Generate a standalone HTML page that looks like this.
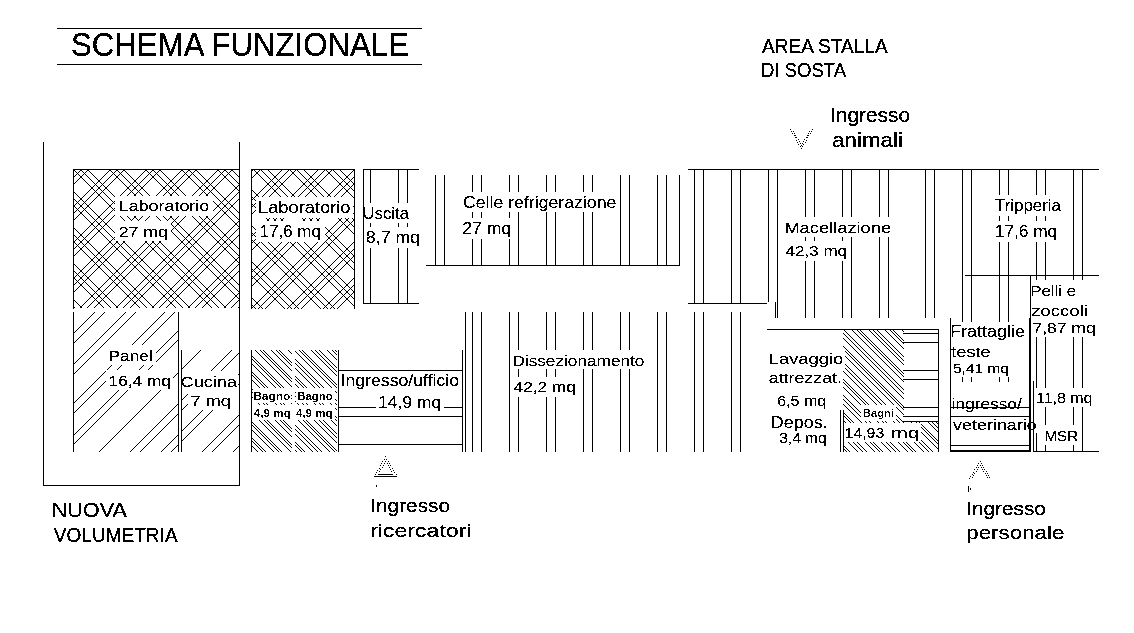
<!DOCTYPE html>
<html><head><meta charset="utf-8"><title>Schema funzionale</title>
<style>html,body{margin:0;padding:0;background:#fff;width:1134px;height:633px;overflow:hidden}svg{display:block;shape-rendering:crispEdges}text{font-family:"Liberation Sans",sans-serif}</style>
</head><body>
<svg width="1134" height="633" viewBox="0 0 1134 633">
<rect width="100%" height="100%" fill="#fff"/>
<filter id="bin0" x="0" y="0" width="1134" height="633" filterUnits="userSpaceOnUse"><feComponentTransfer><feFuncA type="discrete" tableValues="0 1"/></feComponentTransfer></filter>
<g filter="url(#bin0)">
<clipPath id="c1"><rect x="73" y="169" width="166" height="139"/></clipPath>
<g clip-path="url(#c1)" stroke="#000" stroke-width="0.71" fill="none">
<path d="M-108.4 167.5L34.6 310.5M-72.4 167.5L70.6 310.5M-36.4 167.5L106.6 310.5M-0.4 167.5L142.6 310.5M35.6 167.5L178.6 310.5M71.6 167.5L214.6 310.5M107.6 167.5L250.6 310.5M143.6 167.5L286.6 310.5M179.6 167.5L322.6 310.5M215.6 167.5L358.6 310.5M251.6 167.5L394.6 310.5M287.6 167.5L430.6 310.5M-137.4 167.5L5.6 310.5M-101.4 167.5L41.6 310.5M-65.4 167.5L77.6 310.5M-29.4 167.5L113.6 310.5M6.6 167.5L149.6 310.5M42.6 167.5L185.6 310.5M78.6 167.5L221.6 310.5M114.6 167.5L257.6 310.5M150.6 167.5L293.6 310.5M186.6 167.5L329.6 310.5M222.6 167.5L365.6 310.5M258.6 167.5L401.6 310.5M294.6 167.5L437.6 310.5M-130.4 167.5L12.6 310.5M-94.4 167.5L48.6 310.5M-58.4 167.5L84.6 310.5M-22.4 167.5L120.6 310.5M13.6 167.5L156.6 310.5M49.6 167.5L192.6 310.5M85.6 167.5L228.6 310.5M121.6 167.5L264.6 310.5M157.6 167.5L300.6 310.5M193.6 167.5L336.6 310.5M229.6 167.5L372.6 310.5M265.6 167.5L408.6 310.5M301.6 167.5L444.6 310.5"/>
</g>
<clipPath id="c2"><rect x="73" y="169" width="166" height="139"/></clipPath>
<g clip-path="url(#c2)" stroke="#000" stroke-width="0.71" fill="none">
<path d="M4.1 167.5L-138.9 310.5M40.1 167.5L-102.9 310.5M76.1 167.5L-66.9 310.5M112.1 167.5L-30.9 310.5M148.1 167.5L5.1 310.5M184.1 167.5L41.1 310.5M220.1 167.5L77.1 310.5M256.1 167.5L113.1 310.5M292.1 167.5L149.1 310.5M328.1 167.5L185.1 310.5M364.1 167.5L221.1 310.5M400.1 167.5L257.1 310.5M436.1 167.5L293.1 310.5M11.1 167.5L-131.9 310.5M47.1 167.5L-95.9 310.5M83.1 167.5L-59.9 310.5M119.1 167.5L-23.9 310.5M155.1 167.5L12.1 310.5M191.1 167.5L48.1 310.5M227.1 167.5L84.1 310.5M263.1 167.5L120.1 310.5M299.1 167.5L156.1 310.5M335.1 167.5L192.1 310.5M371.1 167.5L228.1 310.5M407.1 167.5L264.1 310.5M443.1 167.5L300.1 310.5M18.1 167.5L-124.9 310.5M54.1 167.5L-88.9 310.5M90.1 167.5L-52.9 310.5M126.1 167.5L-16.9 310.5M162.1 167.5L19.1 310.5M198.1 167.5L55.1 310.5M234.1 167.5L91.1 310.5M270.1 167.5L127.1 310.5M306.1 167.5L163.1 310.5M342.1 167.5L199.1 310.5M378.1 167.5L235.1 310.5M414.1 167.5L271.1 310.5M450.1 167.5L307.1 310.5"/>
</g>
<clipPath id="c3"><rect x="251" y="169" width="104" height="140"/></clipPath>
<g clip-path="url(#c3)" stroke="#000" stroke-width="0.71" fill="none">
<path d="M71.6 167.5L215.6 311.5M107.6 167.5L251.6 311.5M143.6 167.5L287.6 311.5M179.6 167.5L323.6 311.5M215.6 167.5L359.6 311.5M251.6 167.5L395.6 311.5M287.6 167.5L431.6 311.5M323.6 167.5L467.6 311.5M359.6 167.5L503.6 311.5M395.6 167.5L539.6 311.5M42.6 167.5L186.6 311.5M78.6 167.5L222.6 311.5M114.6 167.5L258.6 311.5M150.6 167.5L294.6 311.5M186.6 167.5L330.6 311.5M222.6 167.5L366.6 311.5M258.6 167.5L402.6 311.5M294.6 167.5L438.6 311.5M330.6 167.5L474.6 311.5M366.6 167.5L510.6 311.5M402.6 167.5L546.6 311.5M49.6 167.5L193.6 311.5M85.6 167.5L229.6 311.5M121.6 167.5L265.6 311.5M157.6 167.5L301.6 311.5M193.6 167.5L337.6 311.5M229.6 167.5L373.6 311.5M265.6 167.5L409.6 311.5M301.6 167.5L445.6 311.5M337.6 167.5L481.6 311.5M373.6 167.5L517.6 311.5M409.6 167.5L553.6 311.5"/>
</g>
<clipPath id="c4"><rect x="251" y="169" width="104" height="140"/></clipPath>
<g clip-path="url(#c4)" stroke="#000" stroke-width="0.71" fill="none">
<path d="M212.8 167.5L68.8 311.5M248.8 167.5L104.8 311.5M284.8 167.5L140.8 311.5M320.8 167.5L176.8 311.5M356.8 167.5L212.8 311.5M392.8 167.5L248.8 311.5M428.8 167.5L284.8 311.5M464.8 167.5L320.8 311.5M500.8 167.5L356.8 311.5M536.8 167.5L392.8 311.5M183.8 167.5L39.8 311.5M219.8 167.5L75.8 311.5M255.8 167.5L111.8 311.5M291.8 167.5L147.8 311.5M327.8 167.5L183.8 311.5M363.8 167.5L219.8 311.5M399.8 167.5L255.8 311.5M435.8 167.5L291.8 311.5M471.8 167.5L327.8 311.5M507.8 167.5L363.8 311.5M543.8 167.5L399.8 311.5M190.8 167.5L46.8 311.5M226.8 167.5L82.8 311.5M262.8 167.5L118.8 311.5M298.8 167.5L154.8 311.5M334.8 167.5L190.8 311.5M370.8 167.5L226.8 311.5M406.8 167.5L262.8 311.5M442.8 167.5L298.8 311.5M478.8 167.5L334.8 311.5M514.8 167.5L370.8 311.5M550.8 167.5L406.8 311.5"/>
</g>
<clipPath id="c5"><rect x="73" y="312" width="105" height="140"/></clipPath>
<g clip-path="url(#c5)" stroke="#000" stroke-width="0.71" fill="none">
<path d="M-19903.5 310.5L-20047.5 454.5M-9903.5 310.5L-10047.5 454.5M96.5 310.5L-47.5 454.5M10096.5 310.5L9952.5 454.5M20096.5 310.5L19952.5 454.5M-19893.5 310.5L-20037.5 454.5M-9893.5 310.5L-10037.5 454.5M106.5 310.5L-37.5 454.5M10106.5 310.5L9962.5 454.5M20106.5 310.5L19962.5 454.5M-19872.5 310.5L-20016.5 454.5M-9872.5 310.5L-10016.5 454.5M127.5 310.5L-16.5 454.5M10127.5 310.5L9983.5 454.5M20127.5 310.5L19983.5 454.5M-19862.5 310.5L-20006.5 454.5M-9862.5 310.5L-10006.5 454.5M137.5 310.5L-6.5 454.5M10137.5 310.5L9993.5 454.5M20137.5 310.5L19993.5 454.5M-19833.5 310.5L-19977.5 454.5M-9833.5 310.5L-9977.5 454.5M166.5 310.5L22.5 454.5M10166.5 310.5L10022.5 454.5M20166.5 310.5L20022.5 454.5M-19823.5 310.5L-19967.5 454.5M-9823.5 310.5L-9967.5 454.5M176.5 310.5L32.5 454.5M10176.5 310.5L10032.5 454.5M20176.5 310.5L20032.5 454.5M-19803.0 310.5L-19947.0 454.5M-9803.0 310.5L-9947.0 454.5M197.0 310.5L53.0 454.5M10197.0 310.5L10053.0 454.5M20197.0 310.5L20053.0 454.5M-19792.8 310.5L-19936.8 454.5M-9792.8 310.5L-9936.8 454.5M207.2 310.5L63.2 454.5M10207.2 310.5L10063.2 454.5M20207.2 310.5L20063.2 454.5M-19759.5 310.5L-19903.5 454.5M-9759.5 310.5L-9903.5 454.5M240.5 310.5L96.5 454.5M10240.5 310.5L10096.5 454.5M20240.5 310.5L20096.5 454.5M-19728.5 310.5L-19872.5 454.5M-9728.5 310.5L-9872.5 454.5M271.5 310.5L127.5 454.5M10271.5 310.5L10127.5 454.5M20271.5 310.5L20127.5 454.5M-19718.5 310.5L-19862.5 454.5M-9718.5 310.5L-9862.5 454.5M281.5 310.5L137.5 454.5M10281.5 310.5L10137.5 454.5M20281.5 310.5L20137.5 454.5M-19697.5 310.5L-19841.5 454.5M-9697.5 310.5L-9841.5 454.5M302.5 310.5L158.5 454.5M10302.5 310.5L10158.5 454.5M20302.5 310.5L20158.5 454.5M-19687.5 310.5L-19831.5 454.5M-9687.5 310.5L-9831.5 454.5M312.5 310.5L168.5 454.5M10312.5 310.5L10168.5 454.5M20312.5 310.5L20168.5 454.5M-19656.5 310.5L-19800.5 454.5M-9656.5 310.5L-9800.5 454.5M343.5 310.5L199.5 454.5M10343.5 310.5L10199.5 454.5M-19646.5 310.5L-19790.5 454.5M-9646.5 310.5L-9790.5 454.5M353.5 310.5L209.5 454.5M10353.5 310.5L10209.5 454.5M-19625.5 310.5L-19769.5 454.5M-9625.5 310.5L-9769.5 454.5M374.5 310.5L230.5 454.5M10374.5 310.5L10230.5 454.5M-19615.5 310.5L-19759.5 454.5M-9615.5 310.5L-9759.5 454.5M384.5 310.5L240.5 454.5M10384.5 310.5L10240.5 454.5"/>
</g>
<clipPath id="c6"><rect x="181" y="350" width="58" height="102"/></clipPath>
<g clip-path="url(#c6)" stroke="#000" stroke-width="0.71" fill="none">
<path d="M-9941.5 348.5L-10047.5 454.5M58.5 348.5L-47.5 454.5M10058.5 348.5L9952.5 454.5M20058.5 348.5L19952.5 454.5M-9931.5 348.5L-10037.5 454.5M68.5 348.5L-37.5 454.5M10068.5 348.5L9962.5 454.5M20068.5 348.5L19962.5 454.5M-9910.5 348.5L-10016.5 454.5M89.5 348.5L-16.5 454.5M10089.5 348.5L9983.5 454.5M20089.5 348.5L19983.5 454.5M-9900.5 348.5L-10006.5 454.5M99.5 348.5L-6.5 454.5M10099.5 348.5L9993.5 454.5M20099.5 348.5L19993.5 454.5M-9871.5 348.5L-9977.5 454.5M128.5 348.5L22.5 454.5M10128.5 348.5L10022.5 454.5M20128.5 348.5L20022.5 454.5M-9861.5 348.5L-9967.5 454.5M138.5 348.5L32.5 454.5M10138.5 348.5L10032.5 454.5M20138.5 348.5L20032.5 454.5M-9841.0 348.5L-9947.0 454.5M159.0 348.5L53.0 454.5M10159.0 348.5L10053.0 454.5M20159.0 348.5L20053.0 454.5M-9830.8 348.5L-9936.8 454.5M169.2 348.5L63.2 454.5M10169.2 348.5L10063.2 454.5M20169.2 348.5L20063.2 454.5M-19797.5 348.5L-19903.5 454.5M-9797.5 348.5L-9903.5 454.5M202.5 348.5L96.5 454.5M10202.5 348.5L10096.5 454.5M20202.5 348.5L20096.5 454.5M-19766.5 348.5L-19872.5 454.5M-9766.5 348.5L-9872.5 454.5M233.5 348.5L127.5 454.5M10233.5 348.5L10127.5 454.5M20233.5 348.5L20127.5 454.5M-19756.5 348.5L-19862.5 454.5M-9756.5 348.5L-9862.5 454.5M243.5 348.5L137.5 454.5M10243.5 348.5L10137.5 454.5M20243.5 348.5L20137.5 454.5M-19735.5 348.5L-19841.5 454.5M-9735.5 348.5L-9841.5 454.5M264.5 348.5L158.5 454.5M10264.5 348.5L10158.5 454.5M20264.5 348.5L20158.5 454.5M-19725.5 348.5L-19831.5 454.5M-9725.5 348.5L-9831.5 454.5M274.5 348.5L168.5 454.5M10274.5 348.5L10168.5 454.5M20274.5 348.5L20168.5 454.5M-19694.5 348.5L-19800.5 454.5M-9694.5 348.5L-9800.5 454.5M305.5 348.5L199.5 454.5M10305.5 348.5L10199.5 454.5M20305.5 348.5L20199.5 454.5M-19684.5 348.5L-19790.5 454.5M-9684.5 348.5L-9790.5 454.5M315.5 348.5L209.5 454.5M10315.5 348.5L10209.5 454.5M20315.5 348.5L20209.5 454.5M-19663.5 348.5L-19769.5 454.5M-9663.5 348.5L-9769.5 454.5M336.5 348.5L230.5 454.5M10336.5 348.5L10230.5 454.5M20336.5 348.5L20230.5 454.5M-19653.5 348.5L-19759.5 454.5M-9653.5 348.5L-9759.5 454.5M346.5 348.5L240.5 454.5M10346.5 348.5L10240.5 454.5"/>
</g>
<clipPath id="c7"><rect x="252" y="350" width="40" height="102"/></clipPath>
<g clip-path="url(#c7)" stroke="#000" stroke-width="0.71" fill="none">
<path d="M121.2 348.5L227.2 454.5M137.7 348.5L243.7 454.5M154.2 348.5L260.2 454.5M170.7 348.5L276.7 454.5M187.2 348.5L293.2 454.5M203.7 348.5L309.7 454.5M220.2 348.5L326.2 454.5M236.7 348.5L342.7 454.5M253.2 348.5L359.2 454.5M269.7 348.5L375.7 454.5M286.2 348.5L392.2 454.5M302.7 348.5L408.7 454.5M319.2 348.5L425.2 454.5M126.1 348.5L232.1 454.5M142.6 348.5L248.6 454.5M159.1 348.5L265.1 454.5M175.6 348.5L281.6 454.5M192.1 348.5L298.1 454.5M208.6 348.5L314.6 454.5M225.1 348.5L331.1 454.5M241.6 348.5L347.6 454.5M258.1 348.5L364.1 454.5M274.6 348.5L380.6 454.5M291.1 348.5L397.1 454.5M307.6 348.5L413.6 454.5M129.3 348.5L235.3 454.5M145.8 348.5L251.8 454.5M162.3 348.5L268.3 454.5M178.8 348.5L284.8 454.5M195.3 348.5L301.3 454.5M211.8 348.5L317.8 454.5M228.3 348.5L334.3 454.5M244.8 348.5L350.8 454.5M261.3 348.5L367.3 454.5M277.8 348.5L383.8 454.5M294.3 348.5L400.3 454.5M310.8 348.5L416.8 454.5"/>
</g>
<clipPath id="c8"><rect x="295" y="350" width="42" height="102"/></clipPath>
<g clip-path="url(#c8)" stroke="#000" stroke-width="0.71" fill="none">
<path d="M160.5 348.5L266.5 454.5M177.0 348.5L283.0 454.5M193.5 348.5L299.5 454.5M210.0 348.5L316.0 454.5M226.5 348.5L332.5 454.5M243.0 348.5L349.0 454.5M259.5 348.5L365.5 454.5M276.0 348.5L382.0 454.5M292.5 348.5L398.5 454.5M309.0 348.5L415.0 454.5M325.5 348.5L431.5 454.5M342.0 348.5L448.0 454.5M358.5 348.5L464.5 454.5M165.4 348.5L271.4 454.5M181.9 348.5L287.9 454.5M198.4 348.5L304.4 454.5M214.9 348.5L320.9 454.5M231.4 348.5L337.4 454.5M247.9 348.5L353.9 454.5M264.4 348.5L370.4 454.5M280.9 348.5L386.9 454.5M297.4 348.5L403.4 454.5M313.9 348.5L419.9 454.5M330.4 348.5L436.4 454.5M346.9 348.5L452.9 454.5M363.4 348.5L469.4 454.5M168.6 348.5L274.6 454.5M185.1 348.5L291.1 454.5M201.6 348.5L307.6 454.5M218.1 348.5L324.1 454.5M234.6 348.5L340.6 454.5M251.1 348.5L357.1 454.5M267.6 348.5L373.6 454.5M284.1 348.5L390.1 454.5M300.6 348.5L406.6 454.5M317.1 348.5L423.1 454.5M333.6 348.5L439.6 454.5M350.1 348.5L456.1 454.5M366.6 348.5L472.6 454.5"/>
</g>
<clipPath id="c9"><rect x="843" y="330" width="61" height="122"/></clipPath>
<g clip-path="url(#c9)" stroke="#000" stroke-width="0.71" fill="none">
<path d="M702.0 328.5L828.0 454.5M718.5 328.5L844.5 454.5M735.0 328.5L861.0 454.5M751.5 328.5L877.5 454.5M768.0 328.5L894.0 454.5M784.5 328.5L910.5 454.5M801.0 328.5L927.0 454.5M817.5 328.5L943.5 454.5M834.0 328.5L960.0 454.5M850.5 328.5L976.5 454.5M867.0 328.5L993.0 454.5M883.5 328.5L1009.5 454.5M900.0 328.5L1026.0 454.5M916.5 328.5L1042.5 454.5M933.0 328.5L1059.0 454.5M690.4 328.5L816.4 454.5M706.9 328.5L832.9 454.5M723.4 328.5L849.4 454.5M739.9 328.5L865.9 454.5M756.4 328.5L882.4 454.5M772.9 328.5L898.9 454.5M789.4 328.5L915.4 454.5M805.9 328.5L931.9 454.5M822.4 328.5L948.4 454.5M838.9 328.5L964.9 454.5M855.4 328.5L981.4 454.5M871.9 328.5L997.9 454.5M888.4 328.5L1014.4 454.5M904.9 328.5L1030.9 454.5M921.4 328.5L1047.4 454.5M693.6 328.5L819.6 454.5M710.1 328.5L836.1 454.5M726.6 328.5L852.6 454.5M743.1 328.5L869.1 454.5M759.6 328.5L885.6 454.5M776.1 328.5L902.1 454.5M792.6 328.5L918.6 454.5M809.1 328.5L935.1 454.5M825.6 328.5L951.6 454.5M842.1 328.5L968.1 454.5M858.6 328.5L984.6 454.5M875.1 328.5L1001.1 454.5M891.6 328.5L1017.6 454.5M908.1 328.5L1034.1 454.5M924.6 328.5L1050.6 454.5"/>
</g>
<clipPath id="c10"><rect x="904" y="422" width="34" height="30"/></clipPath>
<g clip-path="url(#c10)" stroke="#000" stroke-width="0.71" fill="none">
<path d="M843.5 420.5L877.5 454.5M860.0 420.5L894.0 454.5M876.5 420.5L910.5 454.5M893.0 420.5L927.0 454.5M909.5 420.5L943.5 454.5M926.0 420.5L960.0 454.5M942.5 420.5L976.5 454.5M959.0 420.5L993.0 454.5M848.4 420.5L882.4 454.5M864.9 420.5L898.9 454.5M881.4 420.5L915.4 454.5M897.9 420.5L931.9 454.5M914.4 420.5L948.4 454.5M930.9 420.5L964.9 454.5M947.4 420.5L981.4 454.5M963.9 420.5L997.9 454.5M851.6 420.5L885.6 454.5M868.1 420.5L902.1 454.5M884.6 420.5L918.6 454.5M901.1 420.5L935.1 454.5M917.6 420.5L951.6 454.5M934.1 420.5L968.1 454.5M950.6 420.5L984.6 454.5M967.1 420.5L1001.1 454.5"/>
</g>
</g>
<g fill="#000">
<rect x="435" y="175" width="1" height="91"/>
<rect x="444" y="175" width="1" height="91"/>
<rect x="472" y="175" width="1" height="91"/>
<rect x="481" y="175" width="1" height="91"/>
<rect x="509" y="175" width="1" height="91"/>
<rect x="518" y="175" width="1" height="91"/>
<rect x="546" y="175" width="1" height="91"/>
<rect x="555" y="175" width="1" height="91"/>
<rect x="583" y="175" width="1" height="91"/>
<rect x="592" y="175" width="1" height="91"/>
<rect x="620" y="175" width="1" height="91"/>
<rect x="629" y="175" width="1" height="91"/>
<rect x="657" y="175" width="1" height="91"/>
<rect x="666" y="175" width="1" height="91"/>
<rect x="465" y="312" width="1" height="140"/>
<rect x="472" y="312" width="1" height="140"/>
<rect x="481" y="312" width="1" height="140"/>
<rect x="509" y="312" width="1" height="140"/>
<rect x="518" y="312" width="1" height="140"/>
<rect x="546" y="312" width="1" height="140"/>
<rect x="555" y="312" width="1" height="140"/>
<rect x="583" y="312" width="1" height="140"/>
<rect x="592" y="312" width="1" height="140"/>
<rect x="620" y="312" width="1" height="140"/>
<rect x="629" y="312" width="1" height="140"/>
<rect x="657" y="312" width="1" height="140"/>
<rect x="666" y="312" width="1" height="140"/>
<rect x="694" y="312" width="1" height="140"/>
<rect x="703" y="312" width="1" height="140"/>
<rect x="731" y="312" width="1" height="140"/>
<rect x="740" y="312" width="1" height="140"/>
<rect x="694" y="169" width="1" height="135"/>
<rect x="703" y="169" width="1" height="135"/>
<rect x="731" y="169" width="1" height="135"/>
<rect x="740" y="169" width="1" height="135"/>
<rect x="768" y="169" width="1" height="133"/>
<rect x="777" y="169" width="1" height="149"/>
<rect x="775" y="302" width="1" height="16"/>
<rect x="805" y="169" width="1" height="149"/>
<rect x="814" y="169" width="1" height="149"/>
<rect x="842" y="169" width="1" height="149"/>
<rect x="851" y="169" width="1" height="149"/>
<rect x="879" y="169" width="1" height="149"/>
<rect x="888" y="169" width="1" height="149"/>
<rect x="925" y="169" width="1" height="149"/>
<rect x="934" y="169" width="1" height="149"/>
<rect x="962" y="169" width="1" height="213"/>
<rect x="971" y="169" width="1" height="213"/>
<rect x="999" y="169" width="1" height="213"/>
<rect x="1008" y="169" width="1" height="213"/>
<rect x="1036" y="169" width="1" height="283"/>
<rect x="1045" y="169" width="1" height="283"/>
<rect x="1073" y="169" width="1" height="283"/>
<rect x="1082" y="169" width="1" height="283"/>
<rect x="370" y="169" width="1" height="135"/>
<rect x="398" y="169" width="1" height="135"/>
<rect x="407" y="169" width="1" height="135"/>
<rect x="338" y="407" width="125" height="1"/>
</g>
<g fill="#fff">
<rect x="115" y="196" width="98" height="20" fill="#fff"/>
<rect x="115" y="221" width="56" height="20" fill="#fff"/>
<rect x="256" y="197" width="97" height="21" fill="#fff"/>
<rect x="256" y="221" width="69" height="21" fill="#fff"/>
<rect x="366" y="203" width="46" height="20" fill="#fff"/>
<rect x="366" y="227" width="54" height="21" fill="#fff"/>
<rect x="461" y="192" width="158" height="20" fill="#fff"/>
<rect x="459" y="218" width="54" height="21" fill="#fff"/>
<rect x="782" y="217" width="111" height="20" fill="#fff"/>
<rect x="782" y="241" width="68" height="20" fill="#fff"/>
<rect x="991" y="195" width="73" height="21" fill="#fff"/>
<rect x="992" y="221" width="68" height="21" fill="#fff"/>
<rect x="106" y="345" width="50" height="20" fill="#fff"/>
<rect x="106" y="370" width="67" height="20" fill="#fff"/>
<rect x="184" y="371" width="54" height="20" fill="#fff"/>
<rect x="188" y="390" width="45" height="20" fill="#fff"/>
<rect x="253" y="388" width="38" height="15" fill="#fff"/>
<rect x="252" y="405" width="40" height="15" fill="#fff"/>
<rect x="296" y="388" width="39" height="15" fill="#fff"/>
<rect x="295" y="405" width="40" height="15" fill="#fff"/>
<rect x="341" y="371" width="119" height="19" fill="#fff"/>
<rect x="376" y="392" width="68" height="20" fill="#fff"/>
<rect x="510" y="350" width="137" height="19" fill="#fff"/>
<rect x="511" y="377" width="67" height="20" fill="#fff"/>
<rect x="766" y="349" width="79" height="19" fill="#fff"/>
<rect x="766" y="367" width="77" height="21" fill="#fff"/>
<rect x="775" y="390" width="53" height="20" fill="#fff"/>
<rect x="769" y="412" width="60" height="20" fill="#fff"/>
<rect x="776" y="429" width="53" height="19" fill="#fff"/>
<rect x="861" y="405" width="35" height="16" fill="#fff"/>
<rect x="843" y="423" width="78" height="19" fill="#fff"/>
<rect x="1029" y="280" width="68" height="57" fill="#fff"/>
<rect x="952" y="322" width="75" height="20" fill="#fff"/>
<rect x="952" y="341" width="60" height="36" fill="#fff"/>
<rect x="1034" y="388" width="60" height="19" fill="#fff"/>
<rect x="1034" y="407" width="6" height="26" fill="#fff"/>
<rect x="1043" y="425" width="37" height="20" fill="#fff"/>
</g>
<g fill="#000">
<rect x="57" y="28" width="365" height="1"/>
<rect x="57" y="64" width="365" height="1"/>
<rect x="43" y="142" width="1" height="344"/>
<rect x="239" y="142" width="1" height="344"/>
<rect x="43" y="485" width="197" height="1"/>
<rect x="73" y="169" width="167" height="1"/>
<rect x="73" y="169" width="1" height="140"/>
<rect x="73" y="312" width="1" height="140"/>
<rect x="178" y="312" width="1" height="140"/>
<rect x="181" y="350" width="1" height="102"/>
<rect x="251" y="169" width="104" height="1"/>
<rect x="251" y="169" width="1" height="140"/>
<rect x="354" y="169" width="1" height="140"/>
<rect x="363" y="169" width="56" height="1"/>
<rect x="363" y="303" width="56" height="1"/>
<rect x="363" y="169" width="1" height="135"/>
<rect x="251" y="350" width="1" height="102"/>
<rect x="338" y="350" width="1" height="102"/>
<rect x="462" y="350" width="1" height="102"/>
<rect x="338" y="370" width="125" height="1"/>
<rect x="338" y="416" width="125" height="1"/>
<rect x="338" y="444" width="125" height="1"/>
<rect x="426" y="265" width="254" height="1"/>
<rect x="679" y="175" width="1" height="91"/>
<rect x="688" y="169" width="411" height="1"/>
<rect x="688" y="303" width="79" height="1"/>
<rect x="965" y="275" width="134" height="1"/>
<rect x="1030" y="275" width="1" height="177"/>
<rect x="1029" y="318" width="1" height="134"/>
<rect x="950" y="318" width="1" height="134"/>
<rect x="950" y="451" width="81" height="1"/>
<rect x="950" y="450" width="81" height="1"/>
<rect x="950" y="407" width="81" height="1"/>
<rect x="950" y="416" width="81" height="1"/>
<rect x="950" y="445" width="81" height="1"/>
<rect x="1033" y="381" width="1" height="71"/>
<rect x="1033" y="451" width="66" height="1"/>
<rect x="767" y="329" width="172" height="1"/>
<rect x="938" y="329" width="1" height="123"/>
<rect x="903" y="333" width="36" height="1"/>
<rect x="903" y="342" width="36" height="1"/>
<rect x="903" y="370" width="36" height="1"/>
<rect x="903" y="379" width="36" height="1"/>
<rect x="903" y="407" width="36" height="1"/>
<rect x="903" y="416" width="36" height="1"/>
<rect x="903" y="421" width="36" height="1"/>
<rect x="840" y="410" width="1" height="42"/>
<rect x="843" y="410" width="1" height="42"/>
</g>
<path fill="#000" d="M389 467h1v1h-1zM382 461h1v1h-1zM974 473h1v1h-1zM986 475h1v1h-1zM796 140h1v1h-1zM811 131h1v1h-1zM987 473h1v1h-1zM801 148h1v1h-1zM809 131h1v1h-1zM977 465h1v1h-1zM790 129h1v1h-1zM980 461h1v1h-1zM799 141h1v1h-1zM396 474h1v1h-1zM384 463h1v1h-1zM978 463h1v1h-1zM806 137h1v1h-1zM385 461h1v1h-1zM983 471h1v1h-1zM804 139h1v1h-1zM807 135h1v1h-1zM390 469h1v1h-1zM987 477h1v1h-1zM375 474h1v1h-1zM981 467h1v1h-1zM382 467h1v1h-1zM973 472h1v1h-1zM980 465h1v1h-1zM989 477h1v1h-1zM807 137h1v1h-1zM796 137h1v1h-1zM388 465h1v1h-1zM379 471h1v1h-1zM393 470h1v1h-1zM985 473h1v1h-1zM978 467h1v1h-1zM792 133h1v1h-1zM392 474h1v1h-1zM801 145h1v1h-1zM385 456h1v1h-1zM794 133h1v1h-1zM800 146h1v1h-1zM805 142h1v1h-1zM812 129h1v1h-1zM803 144h1v1h-1zM802 146h1v1h-1zM380 465h1v1h-1zM378 474h1v1h-1zM972 477h1v1h-1zM794 135h1v1h-1zM381 463h1v1h-1zM798 144h1v1h-1zM387 463h1v1h-1zM977 469h1v1h-1zM379 468h1v1h-1zM389 463h1v1h-1zM795 135h1v1h-1zM377 470h1v1h-1zM376 472h1v1h-1zM982 465h1v1h-1zM791 131h1v1h-1zM800 143h1v1h-1zM793 131h1v1h-1zM802 143h1v1h-1zM795 137h1v1h-1zM798 139h1v1h-1zM969 478h1v1h-1zM386 459h1v1h-1zM984 469h1v1h-1zM394 472h1v1h-1zM983 467h1v1h-1zM808 133h1v1h-1zM982 469h1v1h-1zM797 142h1v1h-1zM973 475h1v1h-1zM390 465h1v1h-1zM988 475h1v1h-1zM810 133h1v1h-1zM392 468h1v1h-1zM976 467h1v1h-1zM981 463h1v1h-1zM808 135h1v1h-1zM380 469h1v1h-1zM383 465h1v1h-1zM388 461h1v1h-1zM974 469h1v1h-1zM986 471h1v1h-1zM803 141h1v1h-1zM806 140h1v1h-1zM391 471h1v1h-1zM972 474h1v1h-1zM384 459h1v1h-1zM970 476h1v1h-1zM976 471h1v1h-1z"/>
<g fill="#000"><rect x="374" y="476" width="23" height="1"/><rect x="378" y="474" width="15" height="1"/><rect x="376" y="485" width="1" height="2"/><rect x="968" y="486" width="1" height="6"/><rect x="970" y="488" width="1" height="2"/></g>
<filter id="binS" x="0" y="0" width="1134" height="633" filterUnits="userSpaceOnUse"><feComponentTransfer><feFuncA type="discrete" tableValues="0 1"/></feComponentTransfer></filter>
<g font-family="Liberation Sans, sans-serif" fill="#000" xml:space="preserve" filter="url(#binS)" font-weight="bold">
<text x="253.2" y="399.5" font-size="10.61" textLength="37.1" lengthAdjust="spacingAndGlyphs">Bagno</text>
<text x="253.8" y="416.6" font-size="10.61" textLength="37.0" lengthAdjust="spacingAndGlyphs">4,9 mq</text>
<text x="297.2" y="399.5" font-size="10.61" textLength="35.7" lengthAdjust="spacingAndGlyphs">Bagno</text>
<text x="296.0" y="416.6" font-size="10.61" textLength="36.5" lengthAdjust="spacingAndGlyphs">4,9 mq</text>
<text x="862.8" y="416.5" font-size="10.47" textLength="31.3" lengthAdjust="spacingAndGlyphs">Bagni</text>
</g>
<filter id="binM" x="0" y="0" width="1134" height="633" filterUnits="userSpaceOnUse"><feComponentTransfer><feFuncA type="discrete" tableValues="0 0 1 1 1"/></feComponentTransfer></filter>
<g font-family="Liberation Sans, sans-serif" fill="#000" xml:space="preserve" filter="url(#binM)">
<text x="118.8" y="211.4" font-size="15.08" textLength="90.4" lengthAdjust="spacingAndGlyphs">Laboratorio</text>
<text x="118.8" y="236.6" font-size="15.22" textLength="49.1" lengthAdjust="spacingAndGlyphs">27 mq</text>
<text x="258.0" y="213.1" font-size="15.78" textLength="92.5" lengthAdjust="spacingAndGlyphs">Laboratorio</text>
<text x="259.4" y="237.3" font-size="15.78" textLength="61.7" lengthAdjust="spacingAndGlyphs">17,6 mq</text>
<text x="362.4" y="219.3" font-size="16.06" textLength="46.6" lengthAdjust="spacingAndGlyphs">Uscita</text>
<text x="366.0" y="243.2" font-size="16.06" textLength="53.9" lengthAdjust="spacingAndGlyphs">8,7 mq</text>
<text x="463.0" y="207.8" font-size="16.06" textLength="153.4" lengthAdjust="spacingAndGlyphs">Celle refrigerazione</text>
<text x="462.2" y="234.0" font-size="16.06" textLength="48.9" lengthAdjust="spacingAndGlyphs">27 mq</text>
<text x="784.4" y="232.7" font-size="15.36" textLength="106.7" lengthAdjust="spacingAndGlyphs">Macellazione</text>
<text x="785.6" y="256.2" font-size="15.08" textLength="61.5" lengthAdjust="spacingAndGlyphs">42,3 mq</text>
<text x="995.0" y="211.1" font-size="15.64" textLength="66.0" lengthAdjust="spacingAndGlyphs">Tripperia</text>
<text x="994.8" y="236.7" font-size="15.78" textLength="62.3" lengthAdjust="spacingAndGlyphs">17,6 mq</text>
<text x="108.6" y="360.8" font-size="15.36" textLength="44.1" lengthAdjust="spacingAndGlyphs">Panel</text>
<text x="108.6" y="385.6" font-size="15.36" textLength="62.3" lengthAdjust="spacingAndGlyphs">16,4 mq</text>
<text x="180.6" y="386.6" font-size="15.36" textLength="56.4" lengthAdjust="spacingAndGlyphs">Cucina</text>
<text x="190.6" y="405.9" font-size="15.36" textLength="40.3" lengthAdjust="spacingAndGlyphs">7 mq</text>
<text x="340.6" y="386.1" font-size="15.64" textLength="118.5" lengthAdjust="spacingAndGlyphs">Ingresso/ufficio</text>
<text x="378.2" y="408.1" font-size="16.76" textLength="62.9" lengthAdjust="spacingAndGlyphs">14,9 mq</text>
<text x="512.4" y="365.7" font-size="15.22" textLength="132.0" lengthAdjust="spacingAndGlyphs">Dissezionamento</text>
<text x="513.6" y="391.5" font-size="15.22" textLength="62.2" lengthAdjust="spacingAndGlyphs">42,2 mq</text>
<text x="768.8" y="363.9" font-size="14.80" textLength="74.3" lengthAdjust="spacingAndGlyphs">Lavaggio</text>
<text x="768.8" y="383.4" font-size="14.80" textLength="73.1" lengthAdjust="spacingAndGlyphs">attrezzat.</text>
<text x="777.0" y="405.5" font-size="14.80" textLength="49.3" lengthAdjust="spacingAndGlyphs">6,5 mq</text>
<text x="770.6" y="427.6" font-size="16.06" textLength="57.2" lengthAdjust="spacingAndGlyphs">Depos.</text>
<text x="779.2" y="443.0" font-size="15.08" textLength="47.5" lengthAdjust="spacingAndGlyphs">3,4 mq</text>
<text x="844.6" y="438.2" font-size="14.80" textLength="39.6" lengthAdjust="spacingAndGlyphs">14,93</text>
<text x="891.0" y="438.2" font-size="14.80" textLength="28.1" lengthAdjust="spacingAndGlyphs">mq</text>
<text x="1030.2" y="295.7" font-size="15.36" textLength="45.9" lengthAdjust="spacingAndGlyphs">Pelli e</text>
<text x="1031.2" y="315.5" font-size="15.36" textLength="56.8" lengthAdjust="spacingAndGlyphs">zoccoli</text>
<text x="1032.4" y="332.8" font-size="15.36" textLength="63.3" lengthAdjust="spacingAndGlyphs">7,87 mq</text>
<text x="950.2" y="337.3" font-size="16.76" textLength="74.7" lengthAdjust="spacingAndGlyphs">Frattaglie</text>
<text x="951.2" y="356.7" font-size="15.36" textLength="39.6" lengthAdjust="spacingAndGlyphs">teste</text>
<text x="953.0" y="372.7" font-size="13.13" textLength="55.9" lengthAdjust="spacingAndGlyphs">5,41 mq</text>
<text x="951.6" y="409.3" font-size="15.36" textLength="70.1" lengthAdjust="spacingAndGlyphs">ingresso/</text>
<text x="953.0" y="429.6" font-size="15.36" textLength="83.8" lengthAdjust="spacingAndGlyphs">veterinario</text>
<text x="1036.0" y="403.1" font-size="14.80" textLength="56.3" lengthAdjust="spacingAndGlyphs">11,8 mq</text>
<text x="1044.4" y="440.6" font-size="15.36" textLength="33.8" lengthAdjust="spacingAndGlyphs">MSR</text>
</g>
<filter id="binL" x="0" y="0" width="1134" height="633" filterUnits="userSpaceOnUse"><feComponentTransfer><feFuncA type="discrete" tableValues="0 1 1"/></feComponentTransfer></filter>
<g font-family="Liberation Sans, sans-serif" fill="#000" xml:space="preserve" filter="url(#binL)">
<text x="71.0" y="56.0" font-size="33.52" textLength="338.0" lengthAdjust="spacingAndGlyphs">SCHEMA FUNZIONALE</text>
<text x="762.0" y="53.0" font-size="19.97" textLength="125.6" lengthAdjust="spacingAndGlyphs">AREA STALLA</text>
<text x="761.0" y="77.0" font-size="19.97" textLength="85.0" lengthAdjust="spacingAndGlyphs">DI SOSTA</text>
<text x="830.0" y="122.2" font-size="20.67" textLength="80.1" lengthAdjust="spacingAndGlyphs">Ingresso</text>
<text x="832.0" y="147.0" font-size="20.67" textLength="71.0" lengthAdjust="spacingAndGlyphs">animali</text>
<text x="51.8" y="516.8" font-size="20.11" textLength="75.1" lengthAdjust="spacingAndGlyphs">NUOVA</text>
<text x="53.8" y="541.5" font-size="19.69" textLength="123.8" lengthAdjust="spacingAndGlyphs">VOLUMETRIA</text>
<text x="370.2" y="512.0" font-size="18.16" textLength="79.9" lengthAdjust="spacingAndGlyphs">Ingresso</text>
<text x="370.2" y="537.3" font-size="18.16" textLength="101.3" lengthAdjust="spacingAndGlyphs">ricercatori</text>
<text x="966.2" y="514.8" font-size="18.85" textLength="79.7" lengthAdjust="spacingAndGlyphs">Ingresso</text>
<text x="966.2" y="539.3" font-size="18.85" textLength="98.3" lengthAdjust="spacingAndGlyphs">personale</text>
</g>
</svg>
</body></html>
